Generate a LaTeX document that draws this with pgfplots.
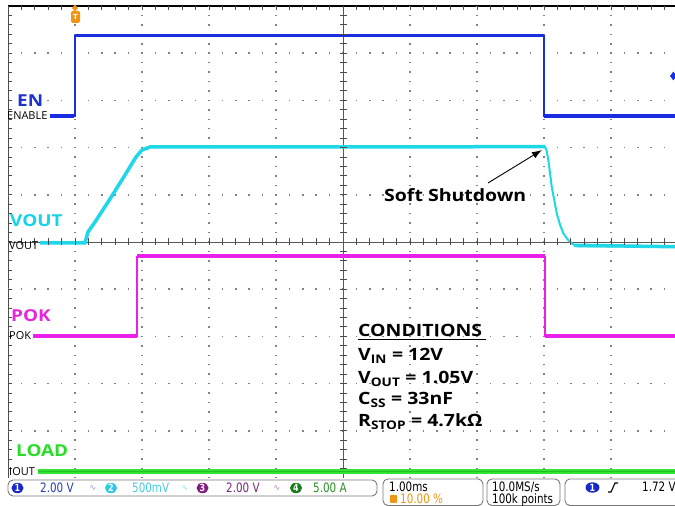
\documentclass[border=0pt]{standalone}
\usepackage{pgfplots}
\pgfplotsset{compat=1.18}
\usepackage{fontspec}
\setmainfont{Open Sans}
\newfontfamily\annot{Open Sans}[FakeStretch=1.15]
\newfontfamily\tek{DejaVu Sans}[FakeStretch=0.8]
\newfontfamily\dejavu{DejaVu Sans}
\usetikzlibrary{arrows.meta}
\definecolor{enc}{RGB}{25,45,225}
\definecolor{voc}{RGB}{30,215,232}
\definecolor{pokc}{RGB}{235,30,235}
\definecolor{loadc}{RGB}{50,228,50}
\definecolor{loadd}{RGB}{40,190,40}
\definecolor{enl}{RGB}{30,50,210}
\definecolor{vol}{RGB}{20,212,232}
\definecolor{pokl}{RGB}{228,40,222}
\definecolor{loadl}{RGB}{40,222,40}
\definecolor{trig}{RGB}{240,150,20}
\definecolor{cha}{RGB}{25,40,200}
\definecolor{chb}{RGB}{45,200,230}
\definecolor{chc}{RGB}{130,30,130}
\definecolor{chd}{RGB}{25,125,25}
\definecolor{cta}{RGB}{40,60,180}
\definecolor{ctb}{RGB}{70,205,228}
\definecolor{ctc}{RGB}{120,40,120}
\definecolor{ctd}{RGB}{40,145,40}
\definecolor{ica}{RGB}{140,150,220}
\definecolor{icb}{RGB}{140,220,235}
\definecolor{icc}{RGB}{180,120,180}
\definecolor{boxc}{RGB}{120,120,120}
\definecolor{gridc}{RGB}{130,130,130}
\begin{document}
\begin{tikzpicture}
\path[use as bounding box, fill=white] (0,0) rectangle (675bp,506bp);
\begin{axis}[
  at={(8bp,28bp)}, anchor=south west,
  scale only axis, width=667bp, height=472bp,
  xmin=-1, xmax=8.955, ymin=-5, ymax=5,
  axis x line*=top, axis y line*=left,
  x axis line style={-, black, line width=1.3bp},
  y axis line style={-, black!70, line width=1bp},
  xtick=\empty, ytick=\empty,
  unbounded coords=jump,
  vg/.style={gridc, line width=1.5bp, dash pattern=on 1.5bp off 7.94bp, dash phase=0.75bp},
  hg/.style={gridc, line width=1.5bp, dash pattern=on 1.5bp off 11.9bp, dash phase=0.75bp},
]
% graticule: dotted division lines
\addplot[vg] coordinates {(0,-5) (0,5)};
\addplot[vg] coordinates {(1,-5) (1,5)};
\addplot[vg] coordinates {(2,-5) (2,5)};
\addplot[vg] coordinates {(3,-5) (3,5)};
\addplot[vg] coordinates {(5,-5) (5,5)};
\addplot[vg] coordinates {(6,-5) (6,5)};
\addplot[vg] coordinates {(7,-5) (7,5)};
\addplot[vg] coordinates {(8,-5) (8,5)};
\addplot[hg] coordinates {(-1,4) (8.955,4)};
\addplot[hg] coordinates {(-1,3) (8.955,3)};
\addplot[hg] coordinates {(-1,2) (8.955,2)};
\addplot[hg] coordinates {(-1,1) (8.955,1)};
\addplot[hg] coordinates {(-1,-1) (8.955,-1)};
\addplot[hg] coordinates {(-1,-2) (8.955,-2)};
\addplot[hg] coordinates {(-1,-3) (8.955,-3)};
\addplot[hg] coordinates {(-1,-4) (8.955,-4)};
% centre cross
\addplot[black!65, line width=0.8bp] coordinates {(4,-5) (4,5)};
\addplot[black!65, line width=0.8bp] coordinates {(-1,0) (8.955,0)};
\addplot[black!70, only marks, mark=-, mark size=3.5bp, mark options={line width=1bp}] coordinates {(4,-4.8)(4,-4.6)(4,-4.4)(4,-4.2)(4,-4)(4,-3.8)(4,-3.6)(4,-3.4)(4,-3.2)(4,-3)(4,-2.8)(4,-2.6)(4,-2.4)(4,-2.2)(4,-2)(4,-1.8)(4,-1.6)(4,-1.4)(4,-1.2)(4,-1)(4,-0.8)(4,-0.6)(4,-0.4)(4,-0.2)(4,0.2)(4,0.4)(4,0.6)(4,0.8)(4,1)(4,1.2)(4,1.4)(4,1.6)(4,1.8)(4,2)(4,2.2)(4,2.4)(4,2.6)(4,2.8)(4,3)(4,3.2)(4,3.4)(4,3.6)(4,3.8)(4,4)(4,4.2)(4,4.4)(4,4.6)(4,4.8)};
\addplot[black!70, only marks, mark=|, mark size=3.5bp, mark options={line width=1bp}] coordinates {(-0.8,0)(-0.6,0)(-0.4,0)(-0.2,0)(0,0)(0.2,0)(0.4,0)(0.6,0)(0.8,0)(1,0)(1.2,0)(1.4,0)(1.6,0)(1.8,0)(2,0)(2.2,0)(2.4,0)(2.6,0)(2.8,0)(3,0)(3.2,0)(3.4,0)(3.6,0)(3.8,0)(4.2,0)(4.4,0)(4.6,0)(4.8,0)(5,0)(5.2,0)(5.4,0)(5.6,0)(5.8,0)(6,0)(6.2,0)(6.4,0)(6.6,0)(6.8,0)(7,0)(7.2,0)(7.4,0)(7.6,0)(7.8,0)(8,0)(8.2,0)(8.4,0)(8.6,0)(8.8,0)};
% border ticks
\addplot[black!70, only marks, mark=|, mark size=2bp, mark options={line width=1bp, yshift=-2bp}] coordinates {(-0.8,5)(-0.6,5)(-0.4,5)(-0.2,5)(0,5)(0.2,5)(0.4,5)(0.6,5)(0.8,5)(1,5)(1.2,5)(1.4,5)(1.6,5)(1.8,5)(2,5)(2.2,5)(2.4,5)(2.6,5)(2.8,5)(3,5)(3.2,5)(3.4,5)(3.6,5)(3.8,5)(4,5)(4.2,5)(4.4,5)(4.6,5)(4.8,5)(5,5)(5.2,5)(5.4,5)(5.6,5)(5.8,5)(6,5)(6.2,5)(6.4,5)(6.6,5)(6.8,5)(7,5)(7.2,5)(7.4,5)(7.6,5)(7.8,5)(8,5)(8.2,5)(8.4,5)(8.6,5)(8.8,5)};
\addplot[black!70, only marks, mark=-, mark size=2bp, mark options={line width=1bp, xshift=2bp}] coordinates {(-1,-4.8)(-1,-4.6)(-1,-4.4)(-1,-4.2)(-1,-4)(-1,-3.8)(-1,-3.6)(-1,-3.4)(-1,-3.2)(-1,-3)(-1,-2.8)(-1,-2.6)(-1,-2.4)(-1,-2.2)(-1,-2)(-1,-1.8)(-1,-1.6)(-1,-1.4)(-1,-1.2)(-1,-1)(-1,-0.8)(-1,-0.6)(-1,-0.4)(-1,-0.2)(-1,0)(-1,0.2)(-1,0.4)(-1,0.6)(-1,0.8)(-1,1)(-1,1.2)(-1,1.4)(-1,1.6)(-1,1.8)(-1,2)(-1,2.2)(-1,2.4)(-1,2.6)(-1,2.8)(-1,3)(-1,3.2)(-1,3.4)(-1,3.6)(-1,3.8)(-1,4)(-1,4.2)(-1,4.4)(-1,4.6)(-1,4.8)};
% LOAD
\addplot[loadc, line width=5bp] coordinates {(-0.552,-4.852) (8.955,-4.852)};
\addplot[loadd, line width=0.7bp] coordinates {(-0.552,-4.86) (8.955,-4.86)};
% POK
\addplot[pokc, line width=1.3bp] coordinates {(-0.627,-1.992) (0.925,-1.992) (0.925,-0.307) (7.015,-0.307) (7.015,-1.992) (8.955,-1.992)};
\addplot[pokc, line width=4bp] coordinates {(-0.627,-1.992) (0.925,-1.992) (0.925,nan) (0.93,-0.307) (7.012,-0.307) (7.015,nan) (7.02,-1.992) (8.955,-1.992)};
% VOUT
\addplot[voc, line width=2bp] coordinates {(-0.522,-0.02) (0.149,-0.02) (0.194,0.212) (0.299,0.424) (0.522,0.911) (0.746,1.419) (0.910,1.801) (1.0,1.949) (1.119,2.013) (7.015,2.019) (7.040,1.93) (7.064,1.737) (7.115,1.172) (7.190,0.608) (7.240,0.36) (7.288,0.184) (7.350,0.06) (7.413,-0.028) (7.488,-0.09) (8.955,-0.1)};
\addplot[voc, line width=3.5bp] coordinates {(-0.522,-0.02) (0.149,-0.02) (0.194,0.212) (0.299,0.424) (0.522,0.911) (0.746,1.419) (0.910,1.801) (1.0,1.949) (1.119,2.013) (7.015,2.019) (7.02,nan) (7.45,-0.07) (8.955,-0.1)};
% EN
\addplot[enc, line width=1.3bp] coordinates {(-0.373,2.669) (0,2.669) (0,4.375) (7.0,4.375) (7.0,2.669) (8.955,2.669)};
\addplot[enc, line width=3.5bp] coordinates {(-0.373,2.669) (-0.01,2.669) (0,nan) (0.005,4.375) (6.995,4.375) (7.0,nan) (7.005,2.669) (8.955,2.669)};
% trigger level marker
\addplot[enc, only marks, mark=diamond*, mark size=4bp] coordinates {(8.93,3.517)};
\end{axis}
\begin{scope}[x=1bp, y=-1bp, yshift=506bp]
% trigger T marker
\fill[trig] (75,4.5) -- (78,8) -- (75,11.5) -- (72,8) -- cycle;
\fill[trig, rounded corners=1.5bp] (71,11) rectangle (80,23);
\node[white, inner sep=0pt, font=\dejavu\bfseries\fontsize{7}{7}\selectfont] at (75.5,17) {T};
% channel labels
\node[anchor=base west, inner sep=0pt, enl, font=\annot\bfseries\fontsize{16.5}{16.5}\selectfont] at (17,107) {EN};
\node[anchor=base west, inner sep=0pt, vol, font=\annot\bfseries\fontsize{16.5}{16.5}\selectfont] at (10,227) {VOUT};
\node[anchor=base west, inner sep=0pt, pokl, font=\annot\bfseries\fontsize{16.5}{16.5}\selectfont] at (11,322) {POK};
\node[anchor=base west, inner sep=0pt, loadl, font=\annot\bfseries\fontsize{16.5}{16.5}\selectfont] at (16,457) {LOAD};
\node[anchor=base west, inner sep=0pt, black, font=\fontsize{11}{11}\selectfont] at (7,120) {ENABLE};
\node[anchor=base west, inner sep=0pt, black, font=\fontsize{11}{11}\selectfont] at (9,250) {VOUT};
\node[anchor=base west, inner sep=0pt, black, font=\fontsize{11}{11}\selectfont] at (9,339.5) {POK};
\node[anchor=base west, inner sep=0pt, black, font=\fontsize{11}{11}\selectfont] at (9,476) {IOUT};
% soft shutdown
\node[anchor=base west, inner sep=0pt, black, font=\annot\bfseries\fontsize{17}{17}\selectfont] at (384,202) {Soft Shutdown};
\draw[black, line width=0.9bp, -{Latex[length=10bp,width=7bp]}] (488,183) -- (542,150);
% conditions
\node[anchor=base west, inner sep=0pt, black, font=\annot\bfseries\fontsize{17}{17}\selectfont] at (358,337) {CONDITIONS};
\draw[black, line width=1.1bp] (358,339.5) -- (486,339.5);
\node[anchor=base west, inner sep=0pt, black, font=\annot\bfseries\fontsize{17}{17}\selectfont] at (358,361) {V\textsubscript{IN} = 12V};
\node[anchor=base west, inner sep=0pt, black, font=\annot\bfseries\fontsize{17}{17}\selectfont] at (358,383.5) {V\textsubscript{OUT} = 1.05V};
\node[anchor=base west, inner sep=0pt, black, font=\annot\bfseries\fontsize{17}{17}\selectfont] at (358,405) {C\textsubscript{SS} = 33nF};
\node[anchor=base west, inner sep=0pt, black, font=\annot\bfseries\fontsize{17}{17}\selectfont] at (358,427) {R\textsubscript{STOP} = 4.7kΩ};
% status bar
\draw[boxc, line width=0.9bp, rounded corners=5bp, fill=white] (8,480) rectangle (377,496);
\draw[boxc, line width=0.9bp, rounded corners=5bp, fill=white] (383,479) rectangle (483,505.5);
\draw[boxc, line width=0.9bp, rounded corners=5bp, fill=white] (487,479) rectangle (560,505.5);
\draw[boxc, line width=0.9bp, rounded corners=5bp, fill=white] (565,479) rectangle (690,505.5);
\fill[cha] (17.5,488) ellipse (6 and 5.2);
\node[white, inner sep=0pt, font=\tek\bfseries\fontsize{10}{10}\selectfont] at (17.5,488) {1};
\node[anchor=base west, inner sep=0pt, cta, font=\tek\fontsize{13}{13}\selectfont] at (40,492.5) {2.00 V};
\node[inner sep=0pt, ica, font=\dejavu\fontsize{8}{8}\selectfont] at (93,488) {∿};
\fill[chb] (111,488) ellipse (6 and 5.2);
\node[white, inner sep=0pt, font=\tek\bfseries\fontsize{10}{10}\selectfont] at (111,488) {2};
\node[anchor=base west, inner sep=0pt, ctb, font=\tek\fontsize{13}{13}\selectfont] at (132,492.5) {500mV};
\node[inner sep=0pt, icb, font=\dejavu\fontsize{8}{8}\selectfont] at (185,488) {∿};
\fill[chc] (202.5,488) ellipse (6 and 5.2);
\node[white, inner sep=0pt, font=\tek\bfseries\fontsize{10}{10}\selectfont] at (202.5,488) {3};
\node[anchor=base west, inner sep=0pt, ctc, font=\tek\fontsize{13}{13}\selectfont] at (226,492.5) {2.00 V};
\node[inner sep=0pt, icc, font=\dejavu\fontsize{8}{8}\selectfont] at (277,488) {∿};
\fill[chd] (296,488) ellipse (6 and 5.2);
\node[white, inner sep=0pt, font=\tek\bfseries\fontsize{10}{10}\selectfont] at (296,488) {4};
\node[anchor=base west, inner sep=0pt, ctd, font=\tek\fontsize{13}{13}\selectfont] at (313,492.5) {5.00 A};
\node[anchor=base west, inner sep=0pt, black, font=\tek\fontsize{13}{13}\selectfont] at (389,492) {1.00ms};
\fill[trig, rounded corners=0.8bp] (390,495) rectangle (397,503);
\node[anchor=base west, inner sep=0pt, trig, font=\tek\fontsize{13}{13}\selectfont] at (400,504) {10.00 \%};
\node[anchor=base west, inner sep=0pt, black, font=\tek\fontsize{13}{13}\selectfont] at (492,492) {10.0MS/s};
\node[anchor=base west, inner sep=0pt, black, font=\tek\fontsize{13}{13}\selectfont] at (492,504) {100k points};
\fill[cha] (592.5,487.5) ellipse (7 and 5.2);
\node[white, inner sep=0pt, font=\tek\bfseries\fontsize{10}{10}\selectfont] at (592.5,487.5) {1};
\draw[black, line width=1.1bp] (608,492) -- (611,492) -- (615,483) -- (618,483);
\node[anchor=base west, inner sep=0pt, black, font=\tek\fontsize{13}{13}\selectfont] at (642,492) {1.72 V};
\end{scope}
\end{tikzpicture}
\end{document}
